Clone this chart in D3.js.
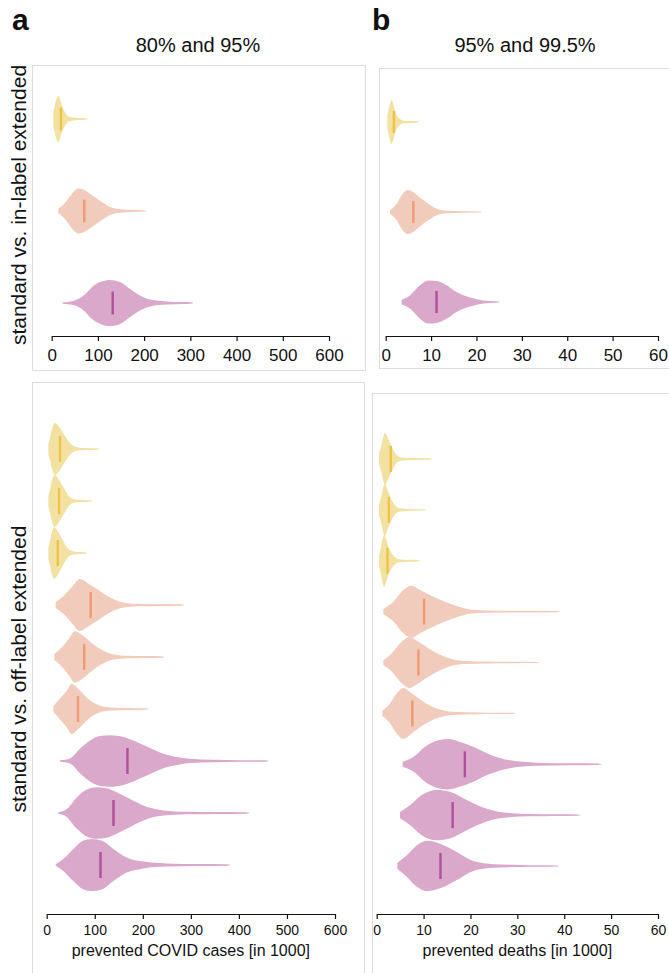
<!DOCTYPE html>
<html>
<head>
<meta charset="utf-8">
<script src="https://cdn.jsdelivr.net/npm/d3@7"></script>
<style>
  body { margin: 0; background: #fff; }
  svg { display: block; }
  text { font-family: "Liberation Sans", Arial, Helvetica, sans-serif; fill: #111; }
</style>
</head>
<body>
<svg id="chart" width="669" height="973"></svg>
<script>
// ---- data (values in thousands) ----
const panelLetters = ["a", "b"];
const panelTitles = ["80% and 95%", "95% and 99.5%"];
const rowLabels = ["standard vs. in-label extended", "standard vs. off-label extended"];
const axisTitles = ["prevented COVID cases [in 1000]", "prevented deaths [in 1000]"];

const casesTicks = [0, 100, 200, 300, 400, 500, 600];
const deathsTicks = [0, 10, 20, 30, 40, 50, 60];

// colour group of every violin row, top to bottom
const inLabelGroups = ["yellow", "orange", "pink"];
const offLabelGroups = ["yellow", "yellow", "yellow", "orange", "orange", "orange", "pink", "pink", "pink"];

// density outlines: [value, relative half-width]
const casesInLabel = [
  [[3.5,0.3],[7,0.62],[11,0.9],[14.5,1.0],[18,0.86],[21.6,0.62],[27,0.36],[32.4,0.19],[38,0.1],[47,0.06],[60,0.04],[72,0.03],[79,0.01]],
  [[14.3,0.1],[25.1,0.27],[36,0.54],[46.8,0.83],[57.6,0.98],[68.4,0.93],[83,0.75],[97.4,0.54],[111.8,0.35],[126.2,0.17],[147.9,0.08],[176.7,0.04],[198,0.03],[205,0.01]],
  [[23.7,0.03],[46.8,0.09],[68.4,0.31],[90,0.74],[108,0.93],[126,1.0],[148,0.91],[169,0.62],[191,0.33],[213,0.15],[249,0.07],[285,0.04],[300,0.03],[306,0.01]]
];
const casesInLabelMedians = [20, 70.5, 132];

const deathsInLabel = [
  [[0.36,0.3],[0.8,0.7],[1.3,1.0],[1.7,0.8],[2.05,0.53],[2.4,0.33],[2.8,0.2],[3.9,0.06],[5.5,0.04],[6.8,0.03],[7.3,0.01]],
  [[0.95,0.08],[2.42,0.38],[3.52,0.76],[4.77,1.0],[6.1,0.91],[7.56,0.65],[9.4,0.38],[11.24,0.15],[13.4,0.06],[17.1,0.035],[20.5,0.025],[21.2,0.01]],
  [[3.52,0.1],[5.35,0.3],[7.56,0.76],[9.4,0.98],[11.24,0.95],[13.4,0.76],[15.6,0.45],[18.6,0.2],[21.5,0.07],[24.2,0.035],[25.2,0.01]]
];
const deathsInLabelMedians = [1.8, 6.1, 11.2];

const casesOffLabel = [
  [[3.4,0.2],[6.9,0.42],[10.4,0.72],[17.3,1.0],[27.7,0.81],[38.1,0.49],[48.5,0.23],[58.9,0.09],[76.3,0.04],[104,0.03],[110,0.01]],
  [[3.4,0.2],[6.9,0.45],[10.4,0.75],[15.9,1.0],[25.6,0.81],[36,0.49],[46.4,0.19],[55.4,0.07],[72.8,0.04],[91,0.03],[96,0.01]],
  [[3.4,0.2],[6.9,0.48],[10.4,0.78],[15.2,1.0],[24.2,0.8],[34.6,0.45],[45,0.15],[55.4,0.06],[70,0.035],[80,0.025],[84,0.01]],
  [[18.7,0.12],[34.6,0.34],[51.9,0.68],[69.3,1.0],[86.6,0.83],[107.4,0.58],[131.7,0.29],[159.4,0.1],[187.2,0.05],[228.8,0.035],[280,0.025],[287,0.01]],
  [[15.9,0.12],[31.2,0.37],[45,0.67],[58.9,0.99],[72.8,0.86],[93.6,0.54],[114.4,0.28],[138.7,0.1],[166.5,0.05],[205,0.035],[240,0.025],[245,0.01]],
  [[13.9,0.12],[27.7,0.4],[41.6,0.7],[52,0.96],[65.9,0.77],[86.7,0.38],[107.5,0.15],[131.8,0.06],[166.5,0.035],[206,0.025],[212,0.01]],
  [[27.7,0.03],[48.5,0.1],[69.3,0.47],[90.2,0.79],[111,0.96],[131.8,0.99],[159.6,0.92],[187.3,0.73],[215.1,0.5],[242.8,0.28],[277.5,0.13],[319.2,0.06],[374.6,0.04],[455,0.025],[462,0.01]],
  [[24.2,0.03],[41.6,0.15],[62.4,0.6],[83.2,0.9],[104,0.99],[124.8,0.95],[152.6,0.73],[180.3,0.47],[208,0.24],[242.8,0.1],[291.3,0.05],[353.8,0.035],[415,0.025],[422,0.01]],
  [[18.7,0.03],[34.6,0.23],[55.4,0.62],[76.3,0.94],[93.6,1.0],[114.4,0.94],[138.7,0.62],[166.5,0.29],[201.2,0.13],[249.8,0.06],[312.2,0.035],[375,0.025],[382,0.01]]
];
const casesOffLabelMedians = [27.7, 25.6, 23, 91.5, 78, 65, 168, 139, 112];

const deathsOffLabel = [
  [[0.49,0.2],[1.06,0.55],[1.4,0.85],[1.77,1.0],[2.3,0.85],[2.84,0.62],[3.4,0.4],[3.9,0.23],[4.6,0.11],[5.33,0.06],[7.8,0.035],[11.2,0.025],[11.8,0.01]],
  [[0.49,0.2],[1.06,0.58],[1.4,0.87],[1.77,1.0],[2.2,0.82],[2.7,0.58],[3.2,0.38],[3.69,0.23],[4.3,0.11],[4.97,0.06],[7.1,0.035],[9.8,0.025],[10.4,0.01]],
  [[0.49,0.2],[1.0,0.6],[1.3,0.88],[1.63,1.0],[2.05,0.8],[2.48,0.55],[3.0,0.35],[3.55,0.2],[4.2,0.1],[4.83,0.06],[6.75,0.035],[8.7,0.025],[9.2,0.01]],
  [[1.42,0.1],[3.55,0.38],[5.68,0.83],[7.46,1.0],[9.24,0.83],[12.8,0.51],[16.3,0.26],[19.9,0.08],[23.5,0.04],[30.6,0.03],[38.5,0.02],[39.2,0.005]],
  [[1.42,0.1],[3.2,0.35],[4.97,0.73],[6.96,0.98],[8.88,0.8],[11.7,0.47],[14.9,0.19],[18.5,0.06],[23.5,0.035],[29,0.025],[34,0.02],[34.6,0.005]],
  [[1.2,0.1],[2.84,0.38],[4.26,0.77],[5.68,0.98],[7.46,0.77],[9.95,0.45],[12.8,0.19],[16.3,0.06],[21.3,0.035],[25.5,0.025],[29,0.02],[29.6,0.005]],
  [[5.54,0.1],[7.82,0.28],[10.3,0.67],[12.8,0.9],[15.3,0.97],[17.8,0.86],[20.6,0.67],[24.2,0.37],[28.4,0.15],[34.1,0.06],[41.2,0.035],[47.2,0.025],[47.9,0.01]],
  [[4.97,0.12],[7.1,0.38],[9.6,0.77],[12.8,0.97],[15.6,0.9],[19.2,0.58],[22.7,0.29],[27,0.1],[32.7,0.045],[38,0.03],[42.8,0.02],[43.5,0.005]],
  [[4.4,0.12],[6.4,0.41],[8.5,0.79],[10.7,0.97],[13.5,0.86],[17.1,0.54],[20.6,0.19],[24.9,0.07],[30.6,0.04],[35,0.03],[38.3,0.02],[38.9,0.005]]
];
const deathsOffLabelMedians = [3.0, 2.6, 2.3, 10.1, 8.9, 7.6, 18.8, 16.2, 13.6];

// ---- styling ----
const fillColor = { yellow: "#f3e1a2", orange: "#f1cbbb", pink: "#daa8ca" };
const medianColor = { yellow: "#ebc448", orange: "#ee9a72", pink: "#b0509b" };
const frameColor = "#dcdcdc";

const svg = d3.select("#chart");

// panel frames
const frames = [
  { x: 32, y: 65, w: 333, h: 305 },
  { x: 379, y: 68, w: 300, h: 300 },
  { x: 32, y: 382, w: 332, h: 620 },
  { x: 372, y: 393, w: 300, h: 620 }
];
svg.append("g").selectAll("rect").data(frames).join("rect")
  .attr("x", d => d.x + 0.5).attr("y", d => d.y + 0.5)
  .attr("width", d => d.w).attr("height", d => d.h)
  .attr("fill", "none").attr("stroke", frameColor).attr("stroke-width", 1);

function violinPanel(cfg) {
  const g = svg.append("g");
  const x = d3.scaleLinear().domain([cfg.ticks[0], cfg.ticks[cfg.ticks.length - 1]]).range(cfg.xRange);
  const rows = d3.range(cfg.profiles.length);
  const y = d3.scalePoint().domain(rows).range(cfg.yRange);
  const hw = cfg.halfWidth;

  rows.forEach(i => {
    const yc = y(i);
    const area = d3.area()
      .x(d => x(d[0]))
      .y0(d => yc + d[1] * hw)
      .y1(d => yc - d[1] * hw)
      .curve(d3.curveMonotoneX);
    g.append("path")
      .attr("d", area(cfg.profiles[i]))
      .attr("fill", fillColor[cfg.groups[i]]);
    g.append("line")
      .attr("x1", x(cfg.medians[i])).attr("x2", x(cfg.medians[i]))
      .attr("y1", yc - hw * 0.5).attr("y2", yc + hw * 0.5)
      .attr("stroke", medianColor[cfg.groups[i]])
      .attr("stroke-width", 2.4);
  });

  const axis = g.append("g")
    .attr("transform", `translate(0,${cfg.axisY})`)
    .call(d3.axisBottom(x).tickValues(cfg.ticks).tickSize(5).tickSizeOuter(0));
  axis.select(".domain").attr("stroke", "#111").attr("stroke-width", 1.2);
  axis.selectAll(".tick line").attr("stroke", "#111").attr("stroke-width", 1.2);
  axis.selectAll(".tick text")
    .attr("y", cfg.labelOffset).attr("dy", null)
    .style("font-family", '"Liberation Sans", Arial, sans-serif')
    .style("font-size", cfg.tickFont + "px")
    .attr("fill", "#111");

  if (cfg.title) {
    g.append("text")
      .attr("x", (cfg.xRange[0] + cfg.xRange[1]) / 2)
      .attr("y", cfg.titleY)
      .attr("text-anchor", "middle")
      .style("font-size", "16px")
      .text(cfg.title);
  }
}

violinPanel({
  profiles: casesInLabel, medians: casesInLabelMedians, groups: inLabelGroups,
  ticks: casesTicks, xRange: [51.7, 329], yRange: [119, 303], halfWidth: 23,
  axisY: 336, labelOffset: 25, tickFont: 17
});
violinPanel({
  profiles: deathsInLabel, medians: deathsInLabelMedians, groups: inLabelGroups,
  ticks: deathsTicks, xRange: [385.7, 658], yRange: [122, 302], halfWidth: 22,
  axisY: 336, labelOffset: 25, tickFont: 17
});
violinPanel({
  profiles: casesOffLabel, medians: casesOffLabelMedians, groups: offLabelGroups,
  ticks: casesTicks, xRange: [46.7, 335], yRange: [449, 865], halfWidth: 26,
  axisY: 914, labelOffset: 21, tickFont: 14, title: axisTitles[0], titleY: 956
});
violinPanel({
  profiles: deathsOffLabel, medians: deathsOffLabelMedians, groups: offLabelGroups,
  ticks: deathsTicks, xRange: [376.7, 658], yRange: [459, 866], halfWidth: 26,
  axisY: 914, labelOffset: 21, tickFont: 14, title: axisTitles[1], titleY: 956
});

// panel letters and column titles
svg.append("text").attr("x", 12).attr("y", 30)
  .style("font-size", "30px").style("font-weight", "bold").text(panelLetters[0]);
svg.append("text").attr("x", 372).attr("y", 30)
  .style("font-size", "30px").style("font-weight", "bold").text(panelLetters[1]);
svg.append("text").attr("x", 198).attr("y", 52).attr("text-anchor", "middle")
  .style("font-size", "20px").text(panelTitles[0]);
svg.append("text").attr("x", 525).attr("y", 52).attr("text-anchor", "middle")
  .style("font-size", "20px").text(panelTitles[1]);

// row labels
svg.append("text").attr("transform", "translate(26,205) rotate(-90)")
  .attr("text-anchor", "middle").style("font-size", "21px").text(rowLabels[0]);
svg.append("text").attr("transform", "translate(26,669) rotate(-90)")
  .attr("text-anchor", "middle").style("font-size", "21px").text(rowLabels[1]);
</script>
</body>
</html>
